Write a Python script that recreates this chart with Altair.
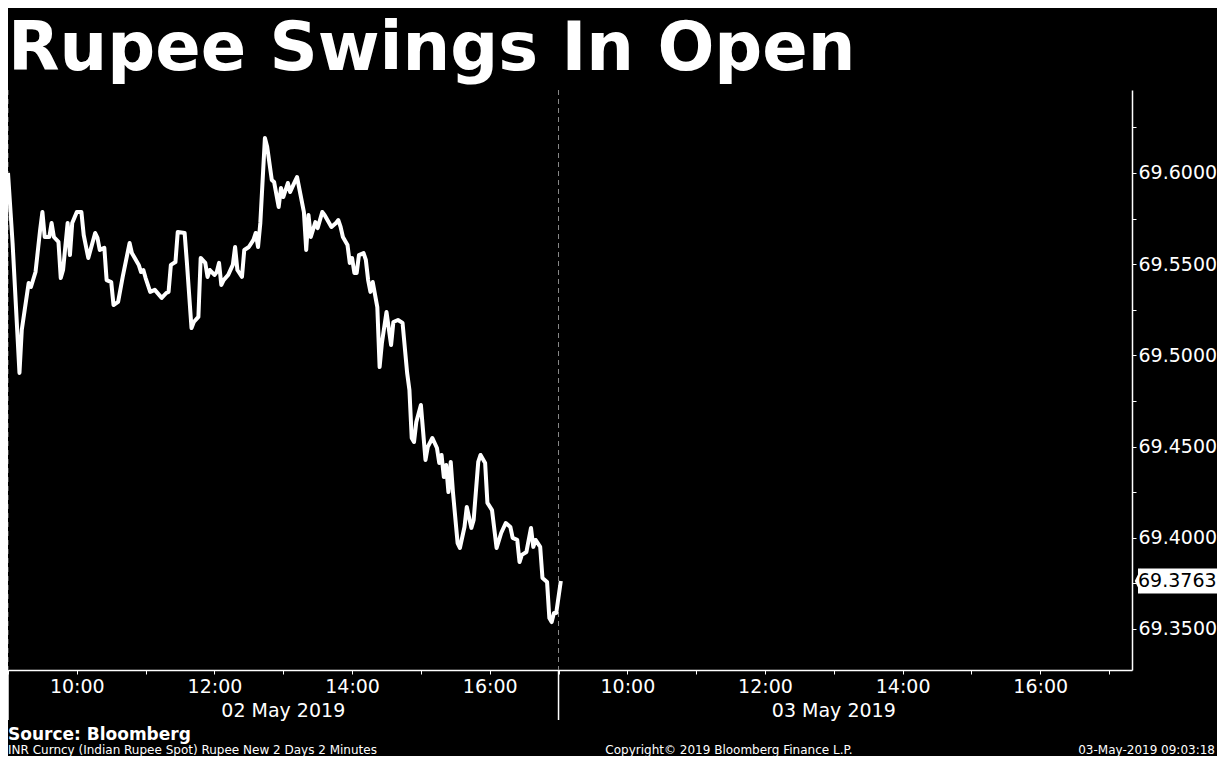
import altair as alt
import pandas as pd

# minutes since 09:00 on 02 May 2019 (day 2 continues at 480 = 09:00 on 03 May)
minutes = [
    0, 4, 10, 12, 18, 20, 24, 28, 30, 32, 36, 38, 40, 44, 46, 48, 52, 54, 56, 60,
    64, 66, 70, 76, 78, 80, 84, 86, 90, 92, 96, 100, 106, 108, 110, 114, 116, 118, 120, 124,
    128, 134, 138, 140, 142, 146, 148, 154, 156, 160, 162, 166, 168, 172, 174, 176, 180, 182, 184, 186,
    188, 192, 196, 198, 200, 204, 206, 210, 214, 216, 218, 220, 224, 226, 230, 232, 236, 238, 240, 244,
    246, 250, 252, 258, 260, 262, 264, 268, 270, 274, 276, 282, 286, 288, 290, 292, 296, 298, 300, 302,
    304, 306, 310, 312, 314, 316, 318, 322, 324, 326, 330, 334, 336, 340, 344, 348, 350, 352, 354, 356,
    360, 364, 366, 370, 374, 376, 378, 380, 382, 384, 386, 388, 392, 394, 398, 400, 404, 406, 410, 412,
    416, 418, 422, 426, 430, 434, 438, 440, 444, 446, 448, 452, 456, 458, 460, 464, 466, 470, 472, 474,
    476, 478, 482,
]
rates = [
    69.6000, 69.5616, 69.4904, 69.5139, 69.5397, 69.5375, 69.5457, 69.5688, 69.5786, 69.5649,
    69.5649, 69.5726, 69.5649, 69.5622, 69.5424, 69.5468, 69.5726, 69.5550, 69.5726, 69.5786,
    69.5786, 69.5660, 69.5534, 69.5671, 69.5644, 69.5578, 69.5589, 69.5413, 69.5402, 69.5276,
    69.5293, 69.5430, 69.5616, 69.5561, 69.5539, 69.5496, 69.5457, 69.5468, 69.5424, 69.5348,
    69.5359, 69.5315, 69.5342, 69.5348, 69.5496, 69.5512, 69.5677, 69.5671, 69.5507, 69.5150,
    69.5183, 69.5211, 69.5534, 69.5507, 69.5430, 69.5468, 69.5441, 69.5457, 69.5507, 69.5386,
    69.5413, 69.5441, 69.5496, 69.5594, 69.5468, 69.5430, 69.5578, 69.5594, 69.5633, 69.5671,
    69.5594, 69.5726, 69.6192, 69.6143, 69.5962, 69.5951, 69.5814, 69.5918, 69.5868, 69.5945,
    69.5896, 69.5951, 69.5978, 69.5786, 69.5578, 69.5770, 69.5649, 69.5731, 69.5698, 69.5786,
    69.5770, 69.5704, 69.5726, 69.5742, 69.5704, 69.5649, 69.5605, 69.5507, 69.5534, 69.5452,
    69.5452, 69.5550, 69.5561, 69.5523, 69.5413, 69.5348, 69.5402, 69.5265, 69.4936, 69.5068,
    69.5238, 69.5057, 69.5183, 69.5194, 69.5178, 69.4904, 69.4810, 69.4547, 69.4525, 69.4635,
    69.4728, 69.4427, 69.4498, 69.4547, 69.4492, 69.4410, 69.4454, 69.4333, 69.4399, 69.4251,
    69.4416, 69.4246, 69.3971, 69.3944, 69.4059, 69.4169, 69.4054, 69.4098, 69.4416, 69.4454,
    69.4410, 69.4191, 69.4152, 69.3944, 69.4026, 69.4081, 69.4059, 69.3999, 69.3988, 69.3867,
    69.3906, 69.3922, 69.4054, 69.3950, 69.3988, 69.3950, 69.3780, 69.3758, 69.3560, 69.3538,
    69.3588, 69.3588, 69.3763,
]

x_tick_values = [0, 60, 120, 180, 240, 300, 360, 420, 480, 540, 600, 660, 720, 780, 840, 900, 960]
y_tick_values = [69.35, 69.375, 69.40, 69.425, 69.45, 69.475, 69.50, 69.525, 69.55, 69.575, 69.60, 69.625]
session_breaks = [0, 480]
date_positions = [240, 720]
date_labels = ["02 May 2019", "03 May 2019"]

title_text = "Rupee Swings In Open"
source_text = "Source: Bloomberg"
desc_text = "INR Curncy (Indian Rupee Spot) Rupee New 2 Days 2 Minutes"
copyright_text = "Copyright\u00a9 2019 Bloomberg Finance L.P."
stamp_text = "03-May-2019 09:03:18"

W, H = 1124, 580
FONT = "DejaVu Sans"

df = pd.DataFrame({"minute": minutes, "rate": rates})
last = df.tail(1)
breaks_df = pd.DataFrame({"minute": session_breaks})
dates_df = pd.DataFrame({"minute": date_positions, "label": date_labels})

xscale = alt.Scale(domain=[0, 980], nice=False, zero=False)
yscale = alt.Scale(domain=[69.3275, 69.6455], nice=False, zero=False)

x_axis = alt.Axis(
    values=x_tick_values,
    labelExpr="(datum.value % 480 != 0 && ((datum.value % 480) / 60) % 2 == 1) ? (((datum.value % 480) / 60) + 9) + ':00' : ''",
    title=None, grid=False, labelFlush=False, labelOverlap=False,
    domainColor="white", domainWidth=1.5, tickColor="white", tickSize=4, tickWidth=1,
    labelColor="white", labelFont=FONT, labelFontSize=19, labelPadding=3,
)
y_axis = alt.Axis(
    orient="right", values=y_tick_values,
    labelExpr="(round(datum.value * 1000) % 50 == 0) ? format(datum.value, '.4f') : ''",
    title=None, grid=False, labelFlush=False, labelOverlap=False,
    domainColor="white", domainWidth=1.5, tickColor="white", tickSize=4, tickWidth=1,
    labelColor="white", labelFont=FONT, labelFontSize=19, labelPadding=2,
)

line = alt.Chart(df).mark_line(color="white", strokeWidth=4, strokeJoin="round").encode(
    x=alt.X("minute:Q", scale=xscale, axis=x_axis),
    y=alt.Y("rate:Q", scale=yscale, axis=y_axis),
)

dashed = alt.Chart(breaks_df).mark_rule(color="#8a8a8a", strokeDash=[5, 4], strokeWidth=1).encode(
    x=alt.X("minute:Q", scale=xscale), y=alt.value(0), y2=alt.value(H)
)
solid = alt.Chart(breaks_df).mark_rule(color="white", strokeWidth=1.5).encode(
    x=alt.X("minute:Q", scale=xscale), y=alt.value(H), y2=alt.value(H + 50)
)

dates = alt.Chart(dates_df).mark_text(
    color="white", font=FONT, fontSize=19, baseline="middle", align="center"
).encode(x=alt.X("minute:Q", scale=xscale), y=alt.value(H + 41), text="label:N")


def note(txt, x, y, size, bold=False, align="left", baseline="middle"):
    return alt.Chart(pd.DataFrame({"t": [txt]})).mark_text(
        color="white", font=FONT, fontSize=size, fontWeight="bold" if bold else "normal",
        align=align, baseline=baseline,
    ).encode(x=alt.value(x), y=alt.value(y), text="t:N")


title = note(title_text, 0, -20, 67, bold=True, baseline="alphabetic")
source = note(source_text, 0, H + 65, 17, bold=True)
desc = note(desc_text, 0, H + 83.5, 12, baseline="alphabetic")
copyright_ = note(copyright_text, 721, H + 83.5, 12, align="center", baseline="alphabetic")
stamp = note(stamp_text, 1207, H + 83.5, 12, align="right", baseline="alphabetic")

box = alt.Chart(last).mark_tick(color="white", orient="horizontal", size=79, thickness=25, opacity=1).encode(
    x=alt.value(1169.5), y=alt.Y("rate:Q", scale=yscale)
)
notch = alt.Chart(last).mark_point(
    shape="M -0.5 0 L 0 -1 L 0 1 Z", filled=True, color="white", opacity=1, size=625, strokeWidth=0
).encode(x=alt.value(1133), y=alt.Y("rate:Q", scale=yscale))
last_label = alt.Chart(last).mark_text(
    color="black", font=FONT, fontSize=19, align="left", baseline="middle"
).encode(x=alt.value(1130), y=alt.Y("rate:Q", scale=yscale), text=alt.Text("rate:Q", format=".4f"))

chart = alt.layer(
    dashed, solid, line, dates, title, source, desc, copyright_, stamp, box, notch, last_label
).properties(
    width=W, height=H,
    background="black",
    padding={"left": 0, "top": 82, "right": 85, "bottom": 86},
    autosize=alt.AutoSizeParams(type="none"),
).configure_view(stroke=None, fill="black")

chart.save("out.html", embed_options={"renderer": "svg", "actions": False})
